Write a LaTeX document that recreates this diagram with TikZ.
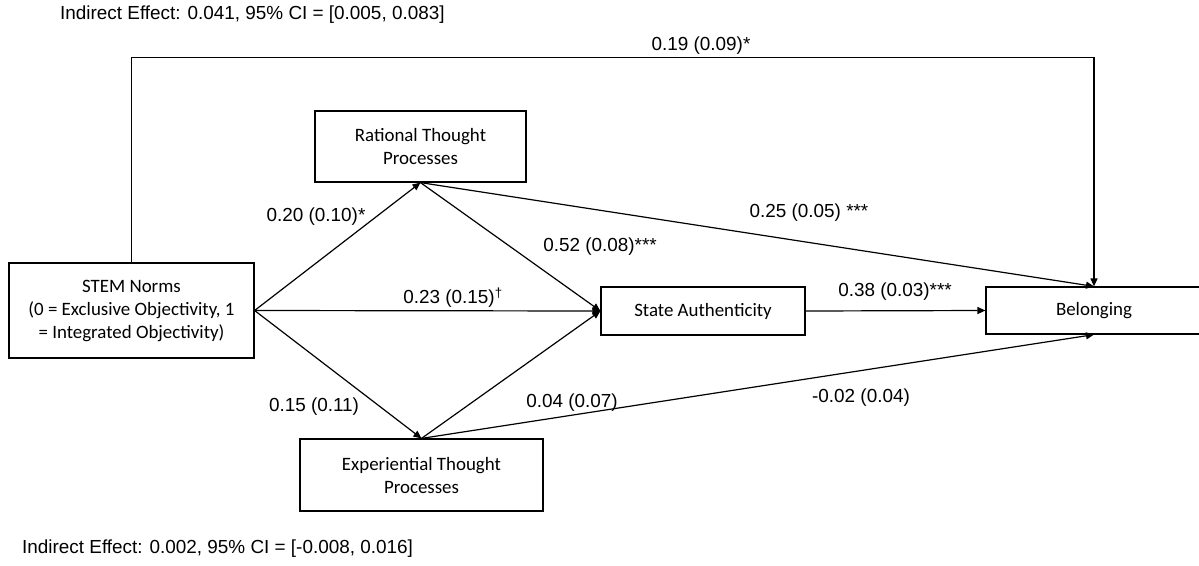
\documentclass[tikz,border=0pt]{standalone}
\usepackage{fontspec}
\setmainfont{Liberation Sans}
\newfontfamily\boxfont{Carlito}
\usetikzlibrary{arrows.meta,calc}
\begin{document}
\begin{tikzpicture}[x=1pt,y=-1pt,
  box/.style={draw,line width=1.2pt,inner sep=0pt,align=center,
    font=\boxfont\fontsize{18.9}{23}\selectfont},
  lbl/.style={inner sep=0pt,font=\fontsize{18.9}{22}\selectfont},
  arr/.style={line width=1.2pt,-{Triangle[length=8pt,width=7pt]}}]
\useasboundingbox (0,0) rectangle (1199,565);
\fill[white] (0,0) rectangle (1199,565);

\node[box,minimum width=245pt,minimum height=95pt] (stem) at (131.5,310.5)
  {STEM Norms\\(0 = Exclusive Objectivity, 1\\= Integrated Objectivity)};
\node[box,minimum width=211pt,minimum height=71pt] (rat) at (420.5,146.5)
  {Rational Thought\\Processes};
\node[box,minimum width=243pt,minimum height=72pt] (exp) at (421.5,475)
  {Experiential Thought\\Processes};
\node[box,minimum width=204pt,minimum height=48pt] (sa) at (703,311)
  {State Authenticity};
\node[box,minimum width=216pt,minimum height=47pt] (bel) at (1094,310.5)
  {Belonging};

\draw[arr] (stem.east) -- (rat.south);
\draw[arr] (stem.east) -- (sa.west);
\draw[arr] (stem.east) -- (exp.north);
\draw[arr] (rat.south) -- (sa.west);
\draw[arr] (exp.north) -- (sa.west);
\draw[arr] (rat.south) -- (bel.north);
\draw[arr] (exp.north) -- (bel.south);
\draw[arr] (sa.east) -- (bel.west);
\draw[arr] (stem.north) -- ++(0,-205) -| (bel.north);

\node[lbl] (l19) at (701,46) {0.19 (0.09)*};
\node[lbl] (l20) at (316,217) {0.20 (0.10)*};
\node[lbl] (l23) at (453,298) {0.23 (0.15)\textsuperscript{†}};
\node[lbl] (l52) at (600,247) {0.52 (0.08)***};
\node[lbl] (l25) at (809,213) {0.25 (0.05) ***};
\node[lbl] (l38) at (895,292) {0.38 (0.03)***};
\node[lbl] (l15) at (314,407) {0.15 (0.11)};
\node[lbl] (l04) at (572,403) {0.04 (0.07)};
\node[lbl] (l02) at (861,398) {-0.02 (0.04)};

\node[lbl,anchor=west] (top) at (60,15) {Indirect Effect: 0.041, 95\% CI = [0.005, 0.083]};
\node[lbl,anchor=west] (bot) at (22,549) {Indirect Effect: 0.002, 95\% CI = [-0.008, 0.016]};
\end{tikzpicture}
\end{document}
